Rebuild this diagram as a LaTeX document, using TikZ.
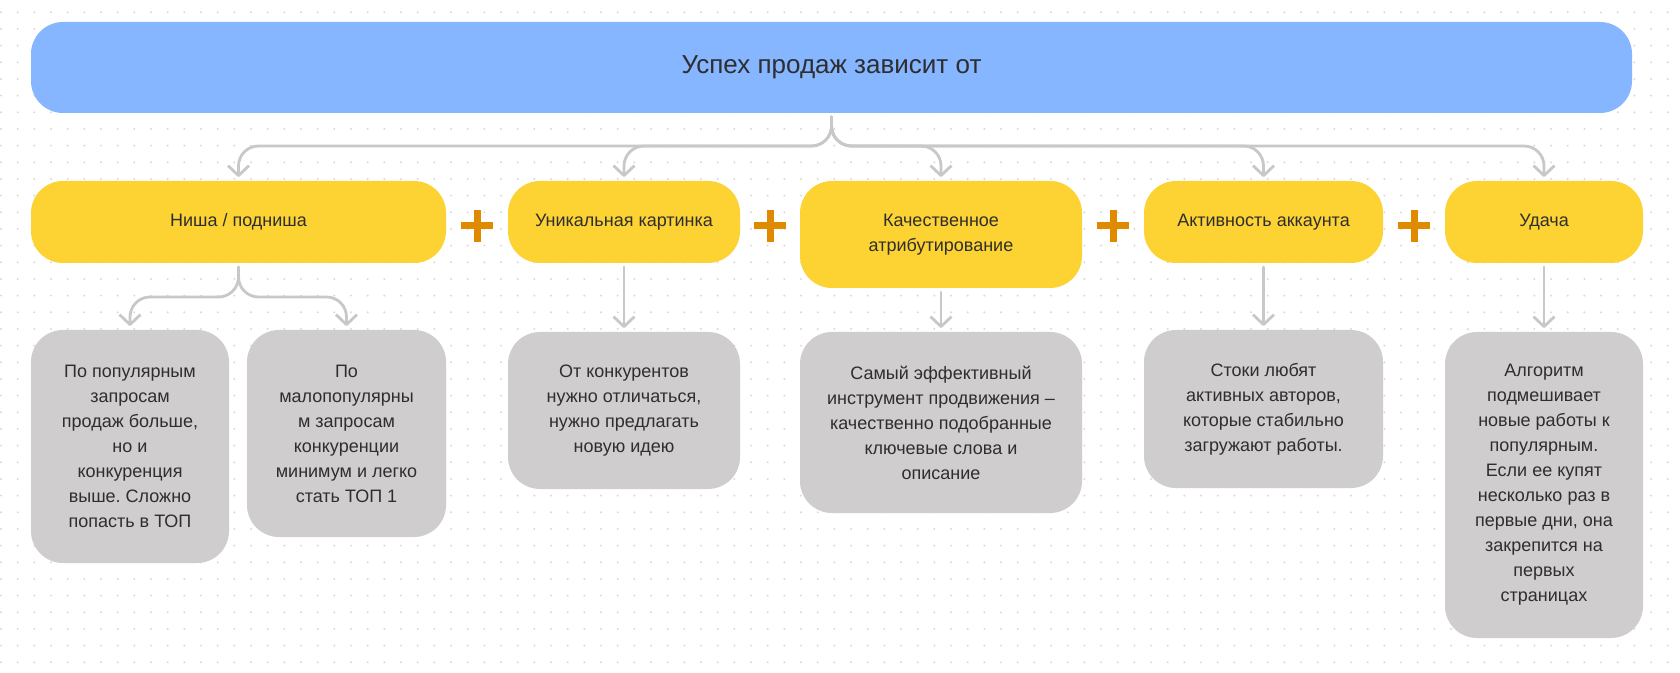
\documentclass[tikz,border=0pt]{standalone}
\usepackage{fontspec}
\setmainfont{Liberation Sans}
\usetikzlibrary{arrows.meta,calc}
\definecolor{headblue}{HTML}{85B6FF}
\definecolor{factoryellow}{HTML}{FDD334}
\definecolor{notegrey}{HTML}{CFCDCE}
\definecolor{linkgrey}{HTML}{C8C8C8}
\definecolor{plusorange}{HTML}{E08A00}
\definecolor{dotgrey}{HTML}{D9D9D9}
\definecolor{inkgrey}{HTML}{2E2E2E}
\frenchspacing

\tikzset{
  box/.style={rounded corners=16pt, inner sep=0pt, outer sep=0pt, align=center,
    text=inkgrey, font=\fontsize{9}{12.5}\selectfont},
  headbox/.style={box, fill=headblue, font=\fontsize{13}{15}\selectfont},
  factorbox/.style={box, fill=factoryellow},
  notebox/.style={box, fill=notegrey},
  link/.style={draw=linkgrey, line width=1.4pt, line cap=round, rounded corners=10pt,
    -{Straight Barb[length=5pt,width=10.5pt,line join=round]},
    shorten <=2pt, shorten >=2pt},
  plussign/.style={draw=plusorange, line width=3.5pt},
}

\begin{document}
\begin{tikzpicture}[x=0.5pt,y=0.5pt]
  \useasboundingbox[fill=white] (0,0) rectangle (1680,-673);
  % dotted canvas
  \foreach \i in {0,...,100}
    \foreach \j in {0,...,39}
      \fill[dotgrey] (1+16.667*\i,-12.3-16.667*\j) circle (0.55pt);

  \node[headbox, minimum width=800.5pt, minimum height=45.5pt] (title) at (831.5,-67.5) {Успех продаж зависит от};

  % factors
  \node[factorbox, minimum width=207.5pt, minimum height=41pt] (niche) at (238.5,-222) {Ниша / подниша};
  \node[factorbox, minimum width=116pt, minimum height=41pt] (unique) at (624,-222) {Уникальная картинка};
  \node[factorbox, minimum width=141pt, minimum height=53.5pt] (attrib) at (941,-234.5) {Качественное\\атрибутирование};
  \node[factorbox, minimum width=119.5pt, minimum height=41pt] (activity) at (1263.5,-222) {Активность аккаунта};
  \node[factorbox, minimum width=99pt, minimum height=41pt] (luck) at (1544,-222) {Удача};

  % notes
  \node[notebox, minimum width=99pt, minimum height=116.5pt] (popular) at (130,-446.5) {По популярным\\запросам\\продаж больше,\\но и\\конкуренция\\выше. Сложно\\попасть в ТОП};
  \node[notebox, minimum width=99.5pt, minimum height=103.5pt] (rare) at (346.5,-433.5) {По\\малопопулярны\\м запросам\\конкуренции\\минимум и легко\\стать ТОП 1};
  \node[notebox, minimum width=116pt, minimum height=78.5pt] (idea) at (624,-410.5) {От конкурентов\\нужно отличаться,\\нужно предлагать\\новую идею};
  \node[notebox, minimum width=141pt, minimum height=90.5pt] (keywords) at (941,-422.5) {Самый эффективный\\инструмент продвижения –\\качественно подобранные\\ключевые слова и\\описание};
  \node[notebox, minimum width=119.5pt, minimum height=79pt] (authors) at (1263.5,-409) {Стоки любят\\активных авторов,\\которые стабильно\\загружают работы.};
  \node[notebox, minimum width=99pt, minimum height=153pt] (algo) at (1544,-485) {Алгоритм\\подмешивает\\новые работы к\\популярным.\\Если ее купят\\несколько раз в\\первые дни, она\\закрепится на\\первых\\страницах};

  % connectors
  \foreach \f in {niche,unique,attrib,activity,luck}
    \draw[link] (title.south) -- ++(0,-33) -| (\f.north);
  \draw[link] (niche.south) -- ++(0,-34) -| (popular.north);
  \draw[link] (niche.south) -- ++(0,-34) -| (rare.north);
  \draw[link] (unique.south) -- (idea.north);
  \draw[link] (attrib.south) -- (keywords.north);
  \draw[link] (activity.south) -- (authors.north);
  \draw[link] (luck.south) -- (algo.north);

  % plus signs
  \foreach \a/\b in {niche/unique,unique/attrib,attrib/activity,activity/luck}
    \draw[plussign] ($(\a.east |- 0,-226)!0.5!(\b.west |- 0,-226)$) +(-16,0) -- +(16,0) +(0,-16) -- +(0,16);
\end{tikzpicture}
\end{document}
